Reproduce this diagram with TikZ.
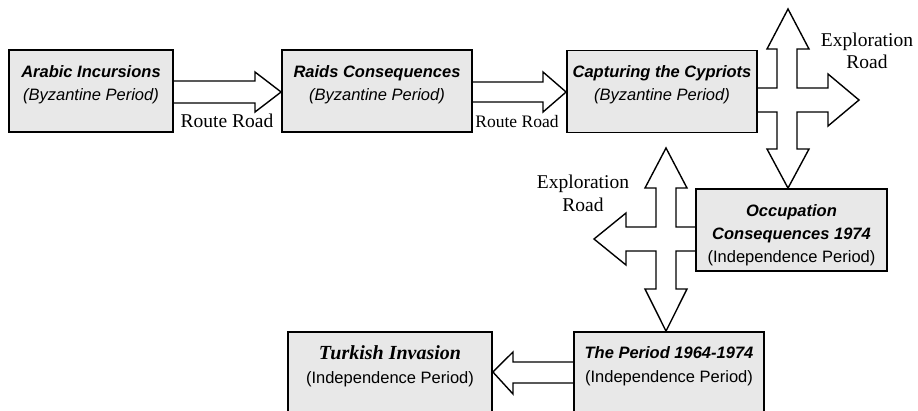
\documentclass[tikz,border=0pt]{standalone}
\usepackage{fontspec}
\setmainfont{Liberation Serif}
\setsansfont{Liberation Sans}
\usetikzlibrary{backgrounds}
\definecolor{boxgray}{RGB}{232,232,232}
\tikzset{
  box/.style={draw=black, line width=1.8pt, fill=boxgray, inner sep=0pt, minimum height=82pt},
  blk/.style={draw=black, line width=1.4pt, fill=white, line join=miter},
  ttl/.style={font=\sffamily\bfseries\itshape\fontsize{16.5}{20}\selectfont, anchor=base, inner sep=0pt},
  ttlr/.style={font=\rmfamily\bfseries\itshape\fontsize{20}{22}\selectfont, anchor=base, inner sep=0pt},
  subi/.style={font=\sffamily\itshape\fontsize{16.5}{20}\selectfont, anchor=base, inner sep=0pt},
  subu/.style={font=\sffamily\fontsize{16.5}{20}\selectfont, anchor=base, inner sep=0pt},
  lbl/.style={font=\rmfamily\fontsize{19.5}{22}\selectfont, anchor=base, inner sep=0pt},
  lbls/.style={font=\rmfamily\fontsize{17.5}{20}\selectfont, anchor=base, inner sep=0pt},
}
\begin{document}
\begin{tikzpicture}[x=1pt, y=-1pt]
\useasboundingbox (0,0) rectangle (918,410);
\clip (0,0) rectangle (918,410);

% boxes
\node[box, minimum width=164pt] (b1) at (91,91) {};
\node[box, minimum width=190pt] (b2) at (377,91) {};
\node[box, minimum width=190pt] (b3) at (662,91.5) {};
\node[box, minimum width=191pt] (b4) at (791.5,230) {};
\node[box, minimum width=190pt] (b5) at (669,373) {};
\node[box, minimum width=204pt] (b6) at (390,373) {};

% texts
\node[ttl] (t1) at (91,77) {Arabic Incursions};
\node[subi] (s1) at (91,100) {(Byzantine Period)};
\node[ttl] (t2) at (377,77) {Raids Consequences};
\node[subi] (s2) at (377,100) {(Byzantine Period)};
\node[ttl] (t3) at (662,77) {Capturing the Cypriots};
\node[subi] (s3) at (662,100) {(Byzantine Period)};
\node[ttl] (t4a) at (791.5,216) {Occupation};
\node[ttl] (t4b) at (791.5,239) {Consequences 1974};
\node[subu] (s4) at (791.5,262) {(Independence Period)};
\node[ttl] (t5) at (669,358) {The Period 1964-1974};
\node[subu] (s5) at (669,382) {(Independence Period)};
\node[ttlr] (t6) at (390,359) {Turkish Invasion};
\node[subu] (s6) at (390,383) {(Independence Period)};

% labels
\node[lbl] (r1) at (227,127) {Route Road};
\node[lbls] (r2) at (517,127) {Route Road};
\node[lbl] (e1a) at (867,46) {Exploration};
\node[lbl] (e1b) at (867,68) {Road};
\node[lbl] (e2a) at (583,188) {Exploration};
\node[lbl] (e2b) at (583,211) {Road};

\begin{scope}[on background layer]
% arrow b1 -> b2
\draw[blk] (b1.east |- 0,81) -- (255,81) -- (255,72) -- (b2.west |- 0,92) -- (255,112) -- (255,103) -- (b1.east |- 0,103);
% arrow b2 -> b3
\draw[blk] (b2.east |- 0,82) -- (543,82) -- (543,72) -- (b3.west |- 0,92) -- (543,112) -- (543,102) -- (b2.east |- 0,102);
% cross 1
\draw[blk] (b3.east |- 0,88) -- (777,88) -- (777,49) -- (767,49) -- (788,9) -- (809,49) -- (797,49) -- (797,88)
  -- (828,88) -- (828,74) -- (859,100) -- (828,126) -- (828,112) -- (797,112) -- (797,149) -- (809,149)
  -- (b4.north -| 788,0) -- (767,149) -- (777,149) -- (777,112) -- (b3.east |- 0,112);
% cross 2
\draw[blk] (b4.west |- 0,227) -- (676,227) -- (676,188) -- (687,188) -- (666,148) -- (645,188) -- (656,188) -- (656,227)
  -- (626,227) -- (626,213) -- (594,239) -- (626,265) -- (626,251) -- (656,251) -- (656,289) -- (645,289)
  -- (b5.north -| 666,0) -- (687,289) -- (676,289) -- (676,251) -- (b4.west |- 0,251);
% arrow b5 -> b6
\draw[blk] (b5.west |- 0,362) -- (513,362) -- (513,352) -- (b6.east |- 0,372) -- (513,394) -- (513,383) -- (b5.west |- 0,383);
\end{scope}
\end{tikzpicture}
\end{document}
